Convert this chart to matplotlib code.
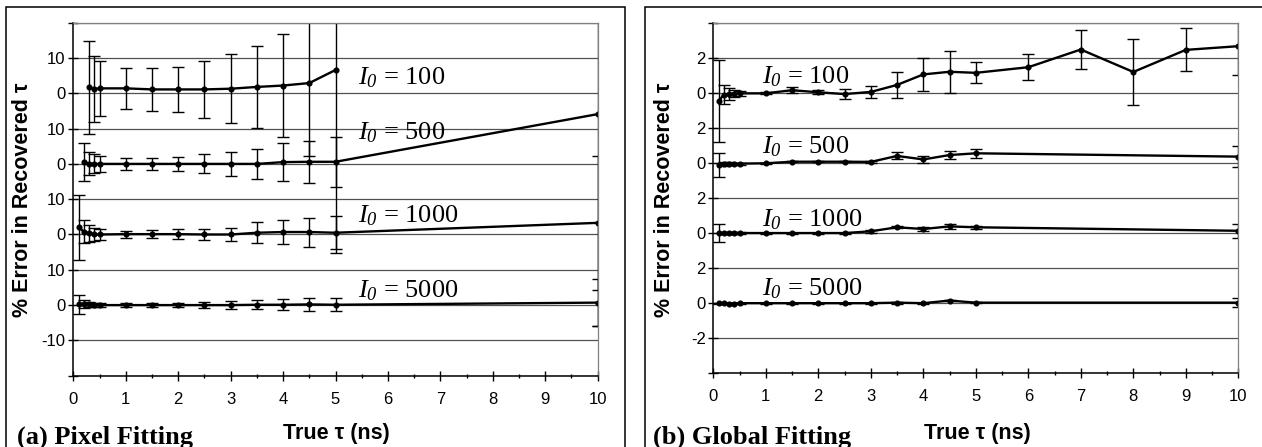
import numpy as np
import matplotlib.pyplot as plt
from matplotlib.patches import Rectangle
from matplotlib.ticker import FixedLocator, FixedFormatter, MultipleLocator

plt.rcParams['font.family'] = ['Liberation Sans', 'DejaVu Sans']
plt.rcParams['mathtext.fontset'] = 'custom'
plt.rcParams['mathtext.it'] = 'Liberation Serif:italic'
plt.rcParams['mathtext.rm'] = 'Liberation Serif:italic'

# (a) pixel fitting: % error in recovered tau
x_pix = [0.1, 0.2, 0.3, 0.4, 0.5, 1, 1.5, 2, 2.5, 3, 3.5, 4, 4.5, 5, 10]
x_pix_100 = [0.3, 0.4, 0.5, 1, 1.5, 2, 2.5, 3, 3.5, 4, 4.5, 5]
y_pix_100 = [1.7, 1.2, 1.4, 1.4, 1.1, 1.1, 1.1, 1.3, 1.8, 2.2, 2.9, 6.6]
e_pix_100 = [13.2, 9.3, 7.7, 5.8, 6.0, 6.4, 8.0, 9.7, 11.6, 14.5, 20.6, 51.8]
x_pix_500 = [0.2, 0.3, 0.4, 0.5, 1, 1.5, 2, 2.5, 3, 3.5, 4, 4.5, 5, 10]
y_pix_500 = [0.6, 0.1, 0.0, 0.0, 0.0, 0.0, 0.0, 0.0, 0.0, 0.0, 0.5, 0.6, 0.6, 14.1]
e_pix_500 = [5.4, 3.3, 2.7, 2.3, 1.8, 1.8, 2.0, 2.7, 3.4, 4.3, 5.3, 6.0, 7.1, 60]
y_pix_1000 = [2.1, 0.8, 0.3, 0.0, 0.0, 0.1, 0.1, 0.1, 0.0, 0.0, 0.5, 0.7, 0.7, 0.5, 3.3]
e_pix_1000 = [9.2, 3.3, 2.3, 1.9, 1.6, 1.0, 1.2, 1.5, 1.6, 1.9, 3.0, 3.5, 4.1, 4.7, 18.9]
y_pix_5000 = [0.2, 0.3, 0.2, 0.1, 0.0, 0.0, 0.0, 0.0, 0.0, 0.0, 0.1, 0.1, 0.2, 0.1, 0.7]
e_pix_5000 = [2.8, 1.1, 0.8, 0.6, 0.5, 0.5, 0.5, 0.5, 0.9, 1.2, 1.3, 1.6, 1.8, 1.9, 6.6]

# (b) global fitting
x_glob = [0.1, 0.2, 0.3, 0.4, 0.5, 1, 1.5, 2, 2.5, 3, 3.5, 4, 4.5, 5, 10]
x_glob_100 = [0.1, 0.2, 0.3, 0.4, 0.5, 1, 1.5, 2, 2.5, 3, 3.5, 4, 4.5, 5, 6, 7, 8, 9, 10]
y_glob_100 = [-0.48, -0.1, -0.08, -0.05, -0.03, -0.03, 0.15, 0.03, -0.07, 0.05,
              0.45, 1.05, 1.2, 1.14, 1.46, 2.47, 1.19, 2.45, 2.66]
e_glob_100 = [2.33, 0.54, 0.35, 0.2, 0.15, 0.05, 0.18, 0.12, 0.26, 0.32,
              0.73, 0.94, 1.2, 0.59, 0.74, 1.1, 1.88, 1.22, 1.63]
y_glob_500 = [-0.1, -0.05, -0.05, -0.04, -0.04, -0.02, 0.07, 0.07, 0.07, 0.06, 0.4, 0.2, 0.45, 0.55, 0.36]
e_glob_500 = [0.68, 0.1, 0.08, 0.06, 0.05, 0.03, 0.03, 0.03, 0.03, 0.05, 0.2, 0.2, 0.24, 0.24, 0.62]
y_glob_1000 = [0.0, 0.0, 0.0, 0.0, 0.0, 0.0, 0.0, 0.0, 0.0, 0.1, 0.33, 0.23, 0.38, 0.33, 0.13]
e_glob_1000 = [0.52, 0.05, 0.05, 0.05, 0.05, 0.03, 0.03, 0.03, 0.03, 0.1, 0.05, 0.1, 0.12, 0.1, 0.4]
y_glob_5000 = [0.0, 0.0, -0.02, -0.02, 0.0, 0.0, 0.0, 0.0, 0.0, 0.0, 0.03, 0.0, 0.15, 0.03, 0.03]
e_glob_5000 = [0.03, 0.03, 0.03, 0.03, 0.03, 0.02, 0.02, 0.02, 0.02, 0.02, 0.05, 0.03, 0.05, 0.03, 0.27]

intensities = ['100', '500', '1000', '5000']
pix_offsets = [60, 40, 20, 0]
glob_offsets = [12, 8, 4, 0]

pix_series = [(x_pix_100, y_pix_100, e_pix_100), (x_pix_500, y_pix_500, e_pix_500),
              (x_pix, y_pix_1000, e_pix_1000), (x_pix, y_pix_5000, e_pix_5000)]
glob_series = [(x_glob_100, y_glob_100, e_glob_100), (x_glob, y_glob_500, e_glob_500),
               (x_glob, y_glob_1000, e_glob_1000), (x_glob, y_glob_5000, e_glob_5000)]

pix_label_pos = [(5.43, 62.4), (5.43, 46.8), (5.43, 23.5), (5.43, 2.3)]
glob_label_pos = [(0.92, 12.54), (0.92, 8.55), (0.92, 4.36), (0.92, 0.47)]

W, H = 1262, 447
fig = plt.figure(figsize=(W / 100, H / 100), dpi=100)

# panel frames
for x0, x1 in [(6, 625), (645, 1270)]:
    fig.add_artist(Rectangle((x0 / W, -0.1), (x1 - x0) / W, 1.1 - 7 / H,
                             transform=fig.transFigure, fill=False,
                             edgecolor='black', lw=1.1))


def draw_panel(rect, series, offsets, step, ylabels, label_pos):
    ax = fig.add_axes(rect)
    for (xs, ys, es), off in zip(series, offsets):
        ax.errorbar(xs, np.array(ys) + off, yerr=es, color='black', lw=1.7,
                    marker='o', ms=3.4, elinewidth=1.0, capsize=4, capthick=1.0)
    ymin, ymax = offsets[-1] - 2 * step, offsets[0] + 2 * step
    ax.set_xlim(0, 10)
    ax.set_ylim(ymin, ymax)
    yt = np.arange(ymin, ymax + step / 2, step)
    ax.yaxis.set_major_locator(FixedLocator(yt))
    ax.yaxis.set_major_formatter(FixedFormatter(ylabels))
    ax.xaxis.set_major_locator(MultipleLocator(1))
    ax.xaxis.set_minor_locator(MultipleLocator(0.5))
    ax.grid(True, axis='y', color='#505050', lw=0.9)
    ax.set_axisbelow(True)
    ax.tick_params(axis='y', which='major', direction='inout', length=7, width=1,
                   labelsize=12, pad=2)
    ax.tick_params(axis='x', which='major', direction='inout', length=7, width=1,
                   labelsize=12, pad=8)
    ax.tick_params(axis='x', which='minor', direction='inout', length=3.5, width=1)
    for s in ['left', 'bottom']:
        ax.spines[s].set_linewidth(1.1)
    for s in ['top', 'right']:
        ax.spines[s].set_color('#808080')
        ax.spines[s].set_linewidth(0.9)
    for name, (lx, ly) in zip(intensities, label_pos):
        ax.text(lx, ly, r'$I_0$ = ' + name, family='Liberation Serif', fontsize=19,
                va='baseline', ha='left')
    return ax


lab_pix = ['', '-10', '0', '10', '0', '10', '0', '10', '0', '10', '']
lab_glob = ['', '-2', '0', '2', '0', '2', '0', '2', '0', '2', '']

draw_panel([73.3 / W, 1 - 375.7 / H, 524.4 / W, 353 / H],
           pix_series, pix_offsets, 10, lab_pix, pix_label_pos)
draw_panel([713.3 / W, 1 - 373.3 / H, 525 / W, 350.6 / H],
           glob_series, glob_offsets, 2, lab_glob, glob_label_pos)

# axis titles
for xc in [23, 665]:
    fig.text(xc / W, 1 - 200 / H, '% Error in Recovered τ', rotation=90,
             ha='center', va='center', fontsize=15.5, fontweight='bold')
for xc in [336, 977]:
    fig.text(xc / W, 1 - 433 / H, 'True τ (ns)', ha='center', va='center',
             fontsize=15.5, fontweight='bold')

fig.text(17 / W, 3 / H, '(a) Pixel Fitting', family='Liberation Serif',
         fontsize=19, fontweight='bold', va='baseline', ha='left')
fig.text(653 / W, 3 / H, '(b) Global Fitting', family='Liberation Serif',
         fontsize=19, fontweight='bold', va='baseline', ha='left')

fig.savefig('out.png', dpi=100)
